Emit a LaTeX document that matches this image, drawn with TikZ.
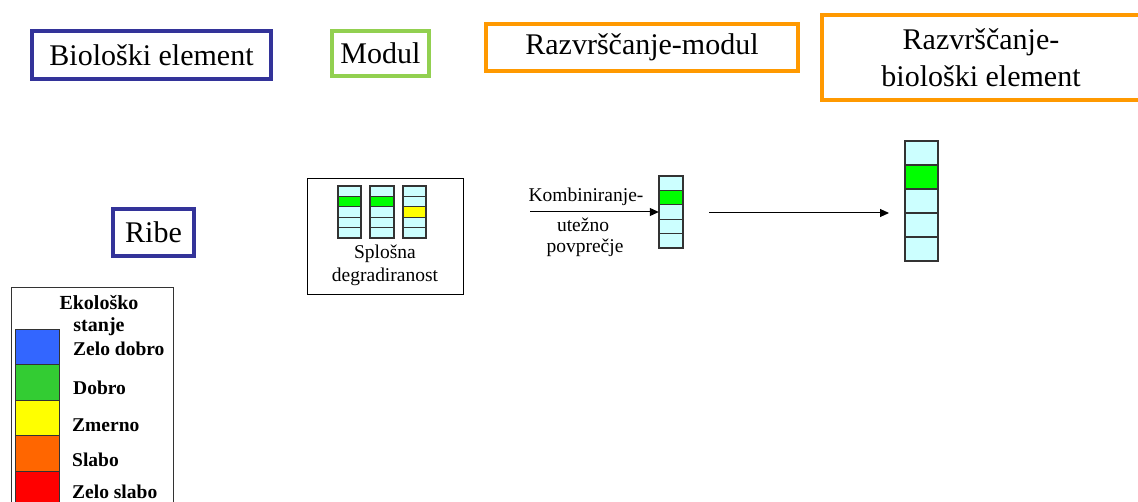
\documentclass[tikz,border=0pt]{standalone}
\usepackage{fontspec}
\setmainfont{Liberation Serif}[Ligatures=TeX]
\newfontfamily\tms{Liberation Serif}
\usetikzlibrary{arrows.meta}
\definecolor{bioblue}{HTML}{333399}
\definecolor{modgreen}{HTML}{92D050}
\definecolor{rankorange}{HTML}{FF9900}
\definecolor{cellcyan}{HTML}{CCFFFF}
\definecolor{cellgreen}{HTML}{00FF00}
\definecolor{cellyellow}{HTML}{FFFF00}
\definecolor{cellline}{HTML}{333333}
\definecolor{stblue}{HTML}{3366FF}
\definecolor{stgreen}{HTML}{33CC33}
\definecolor{styellow}{HTML}{FFFF00}
\definecolor{storange}{HTML}{FF6600}
\definecolor{stred}{HTML}{FF0000}
\tikzset{
  titlebox/.style={draw, line width=4pt, inner sep=0pt, align=center,
    font=\tms\fontsize{30}{37}\selectfont},
  cell/.style={draw=cellline, line width=1.2pt},
  plain/.style={inner sep=0pt, align=center},
  smalltext/.style={plain, font=\tms\fontsize{19.5}{22}\selectfont},
  legendtitle/.style={inner sep=0pt, font=\tms\fontsize{20}{22}\selectfont\bfseries},
  legendtext/.style={inner sep=0pt, anchor=west, font=\tms\fontsize{19.5}{22}\selectfont\bfseries},
  flow/.style={line width=1pt, -{Triangle[length=9pt,width=8pt]}}
}
% draw a stack of five cells: x, top y, width, row height, colours
\newcommand\cellstack[5]{%
  \foreach \c [count=\i from 0] in {#5}
    \draw[cell, fill=\c] (#1,#2+\i*#4) rectangle ++(#3,#4);}
\begin{document}
\begin{tikzpicture}[x=1pt,y=-1pt]
\useasboundingbox (0,0) rectangle (1138,502);
\clip (0,0) rectangle (1138,502);
\fill[white] (0,0) rectangle (1138,502);

% header boxes
\node[titlebox, draw=bioblue, minimum width=239pt, minimum height=48pt] (bio) at (151.5,55) {Biološki element};
\node[titlebox, draw=modgreen, minimum width=97pt, minimum height=45pt] (mod) at (380.5,53.5) {Modul};
\node[titlebox, draw=rankorange, minimum width=312pt, minimum height=47pt] (rmod) at (642,47.5) {Razvrščanje-modul};
\node[titlebox, draw=rankorange, minimum width=318pt, minimum height=85pt] (rbio) at (981,57.5) {Razvrščanje-\\biološki element};

% biological element
\node[titlebox, draw=bioblue, minimum width=81pt, minimum height=47pt] (ribe) at (153.5,232.5) {Ribe};

% module box with three metric columns
\node[draw=black, line width=1pt, minimum width=156pt, minimum height=116pt, inner sep=0pt] (modbox) at (385,237) {};
\cellstack{338}{186}{23}{10.4}{cellcyan,cellgreen,cellcyan,cellcyan,cellcyan}
\cellstack{370}{186}{24}{10.4}{cellcyan,cellgreen,cellcyan,cellcyan,cellcyan}
\cellstack{403}{186}{23}{10.4}{cellcyan,cellcyan,cellyellow,cellcyan,cellcyan}
\node[smalltext] (splosna) at (385,254) {Splošna};
\node[smalltext] (degr) at (385,277) {degradiranost};

% module classification column
\node[inner sep=0pt, minimum width=24pt, minimum height=72pt] (mcol) at (671,212) {};
\cellstack{659}{176}{24}{14.4}{cellcyan,cellgreen,cellcyan,cellcyan,cellcyan}

% combining arrow
\coordinate (cstart) at (530,212);
\draw[flow] (cstart) -- (mcol.west);
\node[smalltext] (komb) at (586,197) {Kombiniranje-};
\node[smalltext] (utez) at (583,225) {utežno};
\node[smalltext] (povp) at (585,248) {povprečje};

% biological element classification column
\node[inner sep=0pt, minimum width=33pt, minimum height=120pt] (rcol) at (921.5,201) {};
\cellstack{905}{141}{33}{24}{cellcyan,cellgreen,cellcyan,cellcyan,cellcyan}
\coordinate (astart) at (709,213);
\coordinate (aend) at (889,213);
\draw[flow] (astart) -- (aend);

% legend
\node[draw=cellline, line width=1pt, minimum width=162pt, minimum height=230pt, inner sep=0pt, anchor=north west] (legend) at (10.5,287) {};
\node[legendtitle] (ltitle1) at (99,303) {Ekološko};
\node[legendtitle] (ltitle2) at (99,327) {stanje};
\foreach \c [count=\i from 0] in {stblue,stgreen,styellow,storange,stred}
  \draw[draw=cellline, line width=0.8pt, fill=\c] (15,329+\i*35.5) rectangle ++(44,35.5);
\node[legendtext] (l1) at (73,349) {Zelo dobro};
\node[legendtext] (l2) at (73,388) {Dobro};
\node[legendtext] (l3) at (72,425) {Zmerno};
\node[legendtext] (l4) at (72,460) {Slabo};
\node[legendtext] (l5) at (72,492) {Zelo slabo};
\end{tikzpicture}
\end{document}
